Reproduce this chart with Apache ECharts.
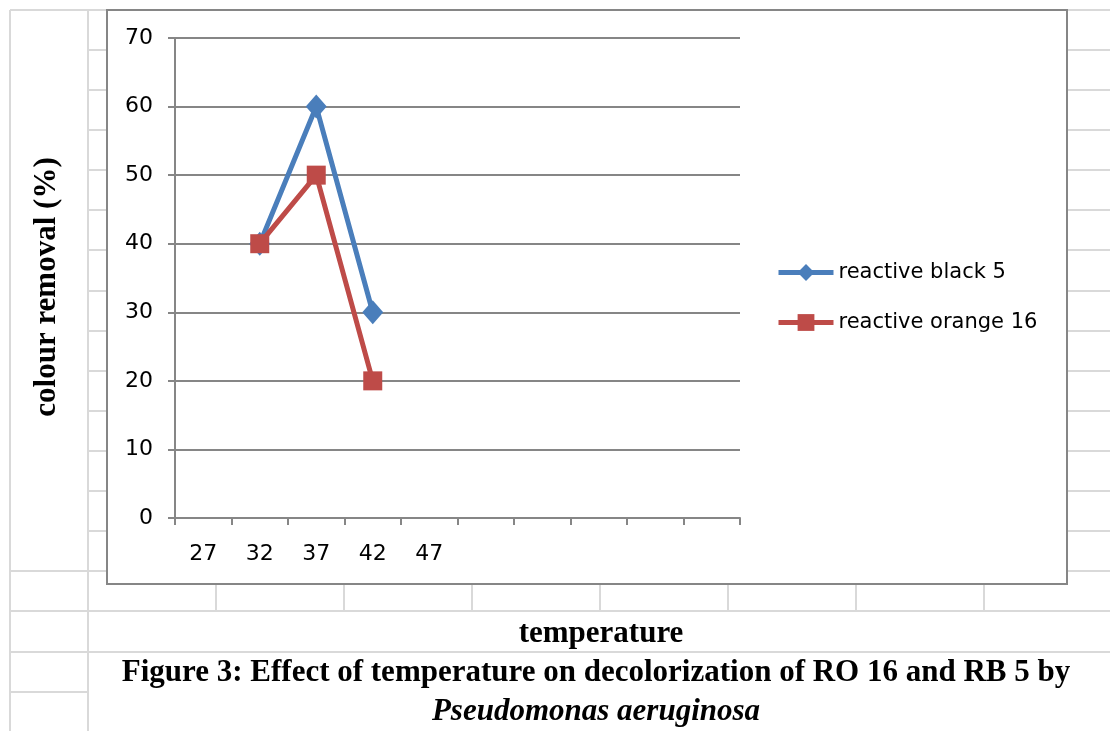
<!DOCTYPE html>
<html>
<head>
<meta charset="utf-8">
<script src="https://cdn.jsdelivr.net/npm/echarts@6/dist/echarts.min.js"></script>
<style>
  html, body { margin: 0; padding: 0; background: #fff; }
  #chart { width: 1110px; height: 731px; }
</style>
</head>
<body>
<div id="chart"></div>
<script>
// temperature categories (only the first five are labelled)
const temperatures = ['27', '32', '37', '42', '47', '', '', '', '', ''];
// colour removal (%)
const reactiveBlack5 = ['-', 40, 60, 30, '-', '-', '-', '-', '-', '-'];
const reactiveOrange16 = ['-', 40, 50, 20, '-', '-', '-', '-', '-', '-'];
const yTicks = { min: 0, max: 70, interval: 10 };

const blue = '#4A7EBB';
const red = '#BE4B48';
const axisGrey = '#868686';
const sheetGrey = '#d9d9d9';

const chart = echarts.init(document.getElementById('chart'));

// spreadsheet cell borders behind the chart
const sheet = [];
const hline = (x1, x2, y) => sheet.push({
    type: 'line', z: -10, silent: true,
    shape: { x1, y1: y, x2, y2: y },
    style: { stroke: sheetGrey, lineWidth: 2 }
});
const vline = (x, y1, y2) => sheet.push({
    type: 'line', z: -10, silent: true,
    shape: { x1: x, y1, x2: x, y2 },
    style: { stroke: sheetGrey, lineWidth: 2 }
});
hline(10, 1110, 10);
vline(10, 10, 731);
vline(88, 10, 731);
for (let i = 1; i <= 13; i++) {
    const y = Math.round(10 + i * 40.08);
    hline(88, 107, y);
    hline(1067, 1110, y);
}
hline(10, 107, 571);
hline(1067, 1110, 571);
hline(10, 1110, 611);
hline(10, 1110, 652);
hline(10, 88, 692);
[216, 344, 472, 600, 728, 856, 984].forEach(x => vline(x, 584, 611));

const option = {
    animation: false,
    backgroundColor: '#fff',
    textStyle: { fontFamily: 'DejaVu Sans' },
    graphic: sheet.concat([
        { // chart area border
            type: 'rect', z: -5, silent: true,
            shape: { x: 107, y: 10, width: 960, height: 574 },
            style: { fill: '#fff', stroke: axisGrey, lineWidth: 2 }
        },
        {
            type: 'text', x: 601, y: 634,
            style: { text: 'temperature', font: 'bold 31px "Liberation Serif"', fill: '#000', align: 'center', verticalAlign: 'middle' }
        },
        {
            type: 'text', x: 596, y: 673,
            style: { text: 'Figure 3: Effect of temperature on decolorization of RO 16 and RB 5 by', font: 'bold 31px "Liberation Serif"', fill: '#000', align: 'center', verticalAlign: 'middle' }
        },
        {
            type: 'text', x: 47, y: 287, rotation: Math.PI / 2,
            style: { text: 'colour removal (%)', font: 'bold 31px "Liberation Serif"', fill: '#000', align: 'center', verticalAlign: 'middle' }
        },
        {
            type: 'text', x: 596, y: 712,
            style: { text: 'Pseudomonas aeruginosa', font: 'italic bold 31px "Liberation Serif"', fill: '#000', align: 'center', verticalAlign: 'middle' }
        }
    ]),
    grid: { left: 175, right: 370, top: 38, bottom: 213, containLabel: false },
    legend: {
        left: 776, top: 262, orient: 'vertical', padding: 0,
        itemWidth: 55, itemHeight: 21, itemGap: 29,
        lineStyle: { width: 5 },
        textStyle: { fontFamily: 'DejaVu Sans', fontSize: 21, color: '#000' },
        data: ['reactive black 5', 'reactive orange 16']
    },
    xAxis: {
        type: 'category',
        data: temperatures,
        boundaryGap: true,
        axisLine: { lineStyle: { color: axisGrey, width: 2 } },
        axisTick: { show: true, length: 7, lineStyle: { color: axisGrey, width: 2 } },
        axisLabel: { interval: 0, margin: 25, color: '#000', fontSize: 22, fontFamily: 'DejaVu Sans' },
        splitLine: { show: false }
    },
    yAxis: {
        type: 'value',
        min: yTicks.min, max: yTicks.max, interval: yTicks.interval,
        axisLine: { show: true, lineStyle: { color: axisGrey, width: 2 } },
        axisTick: { show: true, length: 7, lineStyle: { color: axisGrey, width: 2 } },
        axisLabel: { margin: 22, color: '#000', fontSize: 22, fontFamily: 'DejaVu Sans' },
        splitLine: { show: true, lineStyle: { color: axisGrey, width: 2 } }
    },
    series: [
        {
            name: 'reactive black 5',
            type: 'line',
            data: reactiveBlack5,
            symbol: 'diamond',
            symbolSize: [21, 24],
            showAllSymbol: true,
            connectNulls: false,
            color: blue,
            lineStyle: { color: blue, width: 5 },
            itemStyle: { color: blue }
        },
        {
            name: 'reactive orange 16',
            type: 'line',
            data: reactiveOrange16,
            symbol: 'rect',
            symbolSize: 19,
            showAllSymbol: true,
            connectNulls: false,
            color: red,
            lineStyle: { color: red, width: 5 },
            itemStyle: { color: red }
        }
    ]
};

chart.setOption(option);
</script>
</body>
</html>
